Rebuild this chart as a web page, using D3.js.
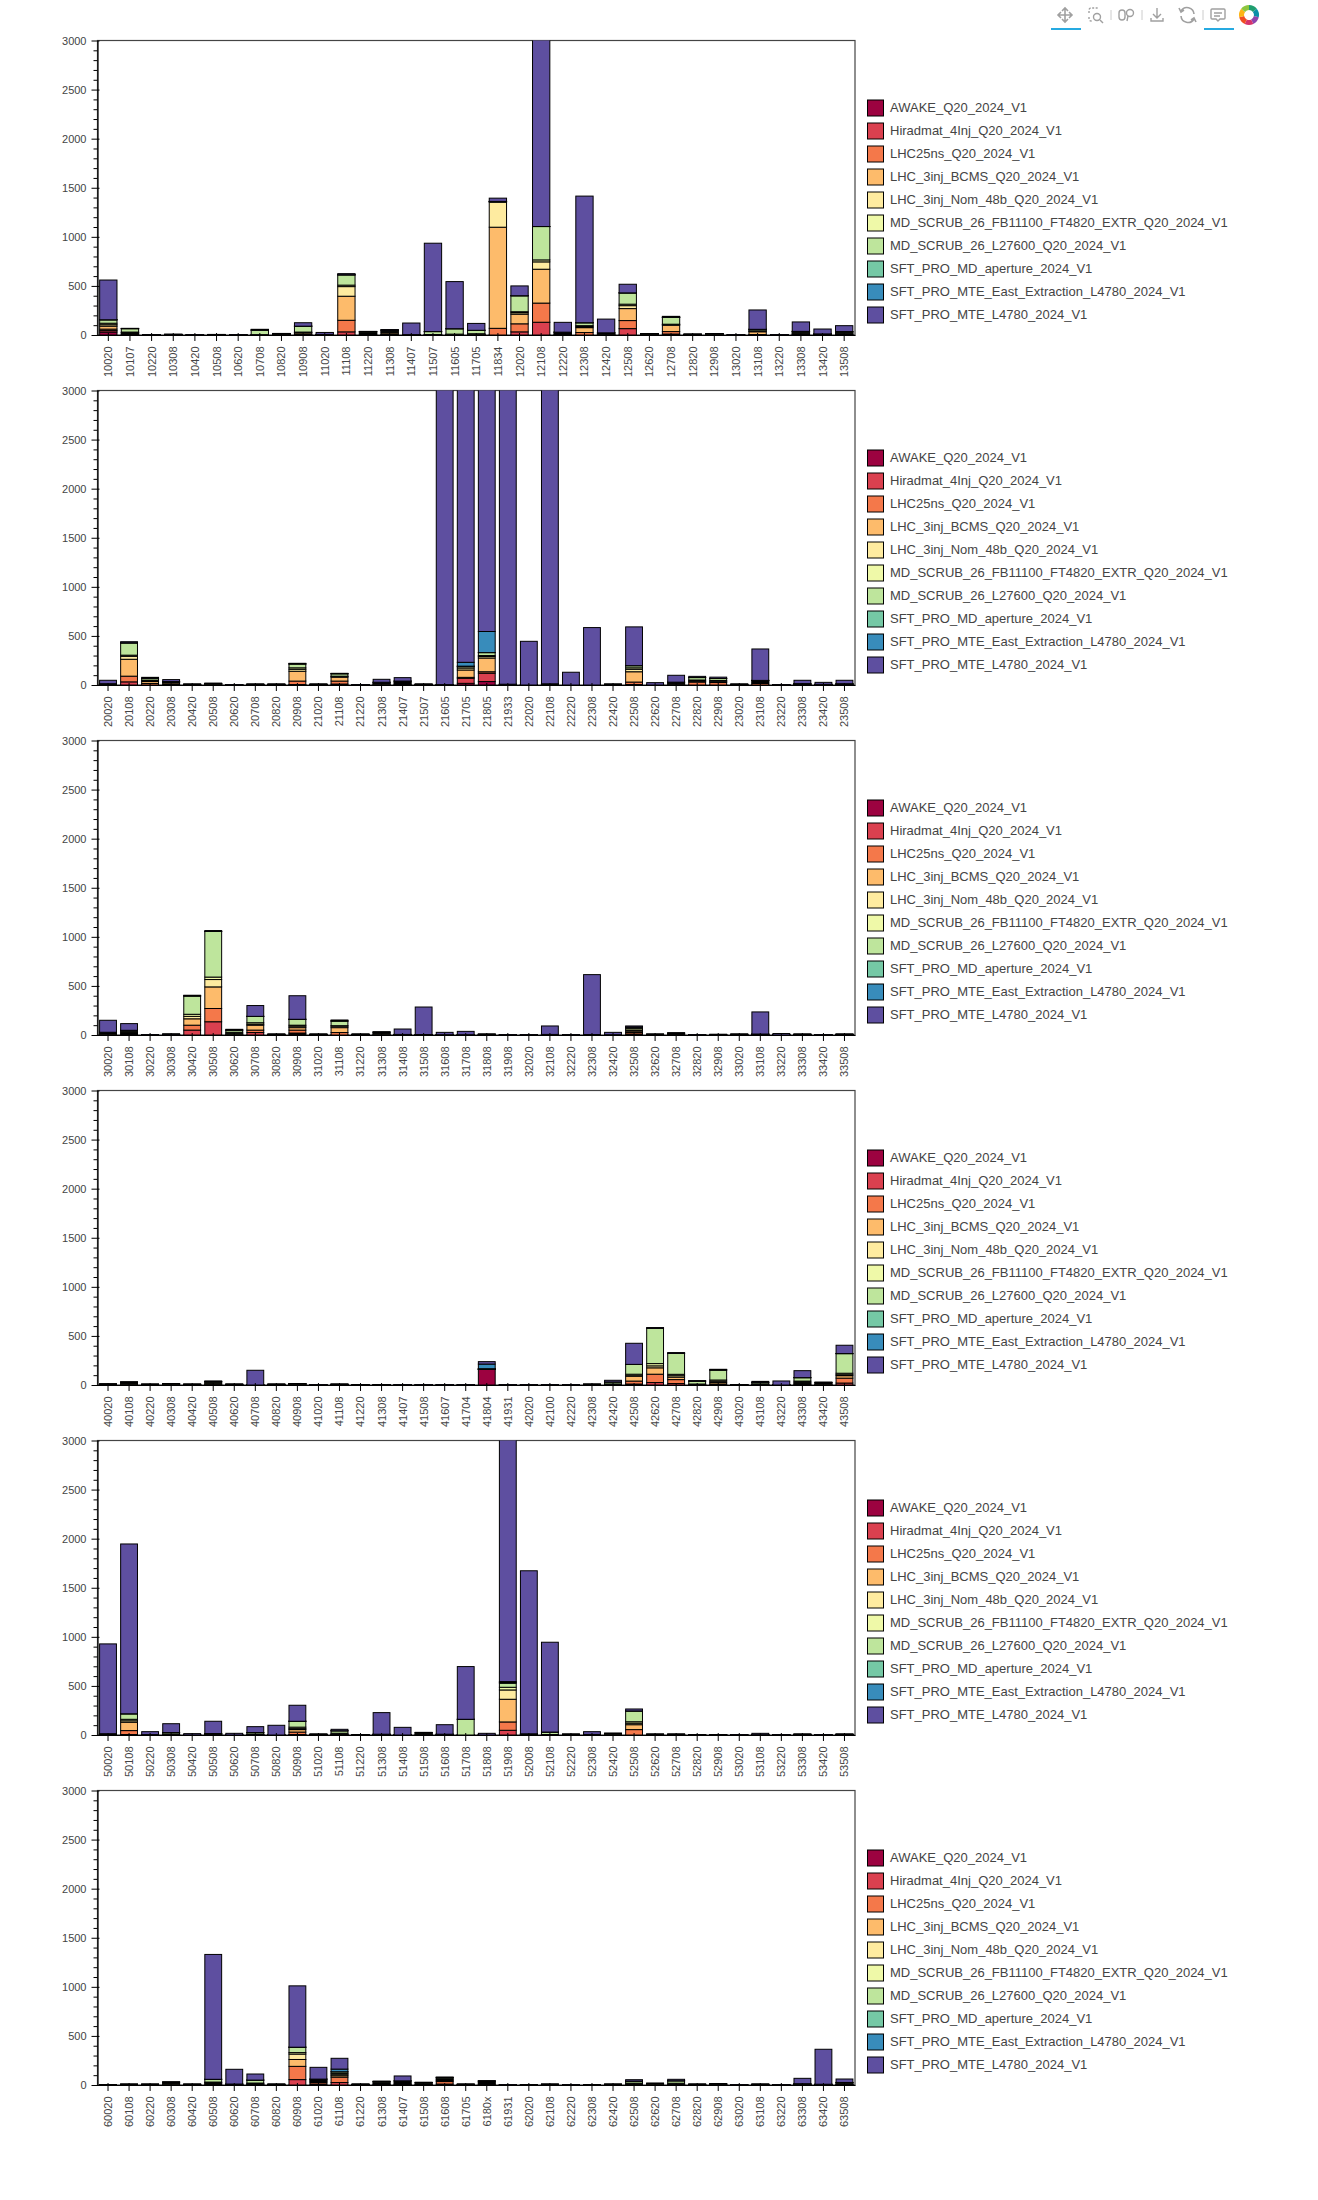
<!DOCTYPE html>
<html>
<head>
  <title>Filling schemes per cycle</title>
  <script src="https://d3js.org/d3.v7.min.js"></script>
  <style>
    body { margin: 0; background: #fff; }
    svg text { font-family: "Liberation Sans", Helvetica, Arial, sans-serif; fill: #444; }
  </style>
</head>
<body>
  <div id="chart"></div>

  <script>
    // legend order, bottom of the stack first
    var seriesNames = ["AWAKE_Q20_2024_V1", "Hiradmat_4Inj_Q20_2024_V1", "LHC25ns_Q20_2024_V1",
      "LHC_3inj_BCMS_Q20_2024_V1", "LHC_3inj_Nom_48b_Q20_2024_V1", "MD_SCRUB_26_FB11100_FT4820_EXTR_Q20_2024_V1",
      "MD_SCRUB_26_L27600_Q20_2024_V1", "SFT_PRO_MD_aperture_2024_V1", "SFT_PRO_MTE_East_Extraction_L4780_2024_V1",
      "SFT_PRO_MTE_L4780_2024_V1"];
    var seriesColors = ["#9c0240", "#da404f", "#f4784a", "#fdbb6b", "#feeba0", "#eff9a8", "#bee59c", "#75c8a5", "#388cbb", "#5e4fa0"];

    var majorTicks = [0, 500, 1000, 1500, 2000, 2500, 3000];
    var minorTicks = [100, 200, 300, 400, 600, 700, 800, 900, 1100, 1200, 1300, 1400, 1600, 1700, 1800, 1900, 2100, 2200, 2300, 2400, 2600, 2700, 2800, 2900];

    var labels1 = ["10020","10107","10220","10308","10420","10508","10620","10708","10820","10908","11020","11108","11220","11308","11407","11507","11605","11705","11834","12020","12108","12220","12308","12420","12508","12620","12708","12820","12908","13020","13108","13220","13308","13420","13508"];
    var values1 = [
      [30,15,15,30,15,15,35,0,0,405],[0,5,5,10,5,5,35,0,0,3],[0,0,0,0,0,0,0,0,0,4],[0,0,0,0,2,2,2,0,0,2],
      [0,0,0,0,0,0,0,0,0,2],[0,0,0,2,0,2,0,0,0,2],[0,0,0,0,0,0,0,0,0,2],[0,0,0,0,2,2,46,0,0,8],
      [0,0,0,4,4,4,2,0,0,2],[0,0,5,15,5,5,60,0,0,35],[0,0,0,0,3,3,0,0,0,20],[0,32,118,245,98,15,105,0,0,12],
      [0,0,3,10,8,8,6,0,0,2],[0,0,5,15,10,10,10,0,0,5],[0,0,0,2,0,2,0,0,0,118],[0,0,0,0,0,5,30,0,0,900],
      [0,0,0,3,3,3,55,0,0,480],[0,0,2,3,3,5,35,0,0,70],[0,0,68,1030,255,4,4,0,0,33],[0,32,82,98,15,10,163,0,0,100],
      [0,130,195,345,75,20,340,0,0,2400],[0,0,5,8,8,8,0,0,0,100],[0,0,25,50,10,10,30,0,0,1290],[0,0,3,3,8,8,0,0,0,140],
      [0,65,82,122,30,15,115,0,0,88],[0,0,0,3,4,4,4,0,0,0],[0,10,25,65,5,5,70,0,0,10],[0,0,0,2,2,2,2,0,0,0],
      [0,0,0,4,4,4,3,0,0,0],[0,0,0,0,0,0,0,0,0,3],[0,0,5,28,5,5,15,0,0,197],[0,0,0,0,0,0,0,0,0,2],
      [0,0,3,8,8,10,8,0,0,96],[0,0,0,3,3,3,2,0,0,50],[0,0,3,8,8,8,8,0,0,60]
    ];

    var labels2 = ["20020","20108","20220","20308","20420","20508","20620","20708","20820","20908","21020","21108","21220","21308","21407","21507","21605","21705","21805","21933","22020","22108","22220","22308","22420","22508","22620","22708","22820","22908","23020","23108","23220","23308","23420","23508"];
    var values2 = [
      [0,0,0,3,3,3,4,0,0,35],[0,32,58,172,30,12,125,0,0,12],[0,0,15,20,10,5,18,0,0,10],[0,0,5,15,5,5,5,0,0,20],
      [0,0,0,2,2,2,2,0,0,0],[0,0,0,4,4,4,4,0,0,2],[0,0,0,0,0,0,0,0,0,3],[0,0,0,2,2,2,2,0,0,0],
      [0,0,0,2,2,2,2,0,0,0],[0,5,35,100,20,15,40,0,0,6],[0,0,0,2,2,2,2,0,0,0],[0,10,30,40,5,5,25,0,0,4],
      [0,0,0,0,0,0,0,0,0,3],[0,0,0,8,8,6,6,0,0,30],[0,0,5,10,10,8,7,0,0,35],[0,0,0,2,2,2,2,0,0,0],
      [0,0,0,0,2,0,2,0,0,3300],[17,51,10,75,20,14,5,0,39,3000],[35,85,15,140,15,10,30,0,215,2600],[0,0,0,2,2,2,2,0,0,3300],
      [0,0,0,0,0,0,0,0,0,445],[0,0,0,3,3,3,3,0,0,3300],[0,0,0,0,0,0,0,0,0,130],[0,0,0,0,0,0,0,0,0,585],
      [0,0,0,2,2,2,2,0,0,0],[0,5,25,105,25,15,22,0,0,395],[0,0,0,0,0,0,0,0,0,24],[0,0,2,7,7,7,6,0,0,70],
      [0,0,30,8,5,8,25,0,0,12],[0,0,25,8,5,8,20,0,0,14],[0,0,0,2,2,2,2,0,0,0],[0,0,15,10,10,10,2,0,0,320],
      [0,0,0,0,0,0,0,0,0,3],[0,0,0,3,3,4,4,0,0,34],[0,0,0,2,2,2,1,0,0,20],[0,0,0,3,3,4,3,0,0,35]
    ];

    var labels3 = ["30020","30108","30220","30308","30420","30508","30620","30708","30820","30908","31020","31108","31220","31308","31408","31508","31608","31708","31808","31908","32020","32108","32220","32308","32420","32508","32620","32708","32820","32908","33020","33108","33220","33308","33420","33508"];
    var values3 = [
      [0,0,2,6,6,7,7,0,0,122],[0,0,5,10,10,12,11,0,0,68],[0,0,0,0,0,0,0,0,0,3],[0,0,0,2,2,2,2,0,0,2],
      [0,50,50,65,25,21,187,0,0,7],[0,135,135,220,75,25,465,0,0,9],[0,0,0,8,10,10,22,0,0,8],[0,25,25,50,10,15,65,0,0,110],
      [0,0,0,2,2,2,2,0,0,0],[10,10,30,25,15,10,60,0,0,240],[0,0,0,2,2,2,2,0,0,0],[0,0,25,50,15,5,48,0,0,10],
      [0,0,0,2,2,2,2,0,0,0],[0,0,0,8,8,8,6,0,0,0],[0,0,0,0,2,2,2,0,0,55],[0,0,0,0,1,2,2,0,0,280],
      [0,0,0,0,1,1,1,0,0,24],[0,0,0,0,1,1,1,0,0,34],[0,0,0,2,2,2,2,0,0,0],[0,0,0,0,0,0,0,0,0,3],
      [0,0,0,0,0,0,0,0,0,3],[0,0,0,0,2,2,2,0,0,86],[0,0,0,0,0,0,0,0,0,3],[0,0,0,0,1,2,2,0,0,610],
      [0,0,0,0,1,1,1,0,0,24],[0,10,15,15,10,15,15,0,0,12],[0,0,0,2,2,2,2,0,0,0],[0,0,0,5,5,5,5,0,0,0],
      [0,0,0,0,0,0,0,0,0,3],[0,0,0,0,0,0,0,0,0,8],[0,0,0,2,2,2,2,0,0,0],[0,0,0,2,3,3,2,0,0,225],
      [0,0,0,0,0,0,0,0,0,15],[0,0,0,2,2,2,2,0,0,0],[0,0,0,0,0,0,0,0,0,3],[0,0,0,2,2,2,2,0,0,0]
    ];

    var labels4 = ["40020","40108","40220","40308","40420","40508","40620","40708","40820","40908","41020","41108","41220","41308","41407","41508","41607","41704","41804","41931","42020","42100","42220","42308","42420","42508","42620","42708","42820","42908","43020","43108","43220","43308","43420","43508"];
    var values4 = [
      [0,0,0,2,3,3,2,0,0,0],[0,0,0,8,8,7,7,0,0,0],[0,0,0,2,2,2,2,0,0,0],[0,0,0,4,4,4,3,0,0,0],
      [0,0,0,2,2,2,2,0,0,0],[0,0,0,9,9,9,9,0,0,5],[0,0,0,2,2,2,2,0,0,0],[0,0,0,0,0,0,0,0,0,150],
      [0,0,0,2,2,2,2,0,0,0],[0,0,0,4,4,4,3,0,0,0],[0,0,0,0,0,0,0,0,0,3],[0,0,0,2,2,2,2,0,0,0],
      [0,0,0,0,0,0,0,0,0,5],[0,0,0,0,0,0,0,0,0,5],[0,0,0,0,0,0,0,0,0,3],[0,0,0,0,0,0,0,0,0,3],
      [0,0,0,0,0,0,0,0,0,3],[0,0,0,0,0,0,0,0,0,3],[160,0,0,0,0,3,3,0,47,25],[0,0,0,0,0,0,0,0,0,3],
      [0,0,0,0,0,0,0,0,0,3],[0,0,0,0,0,0,0,0,0,3],[0,0,0,0,0,0,0,0,0,3],[0,0,0,2,2,2,2,0,0,0],
      [0,0,0,3,3,5,20,0,0,17],[0,10,30,50,5,15,100,0,0,215],[0,25,85,65,20,23,360,0,0,7],[0,15,40,25,15,14,214,0,0,7],
      [0,0,0,3,3,4,30,0,0,4],[0,0,10,15,13,13,102,0,0,7],[0,0,0,2,1,1,1,0,0,0],[0,0,0,3,3,6,15,0,0,10],
      [0,0,0,0,0,0,0,0,0,41],[0,0,10,10,10,10,35,0,0,71],[0,0,0,7,7,7,6,0,0,0],[0,20,50,25,10,15,200,0,0,85]
    ];

    var labels5 = ["50020","50108","50220","50308","50420","50508","50620","50708","50820","50908","51020","51108","51220","51308","51408","51508","51608","51708","51808","51908","52008","52108","52220","52308","52420","52508","52620","52708","52820","52908","53020","53108","53220","53308","53420","53508"];
    var values5 = [
      [0,0,0,3,3,4,3,0,0,915],[0,5,40,85,15,15,56,0,0,1730],[0,0,0,0,1,1,2,0,0,30],[0,0,0,3,4,4,14,0,0,90],
      [0,0,0,0,0,0,0,0,0,14],[0,0,0,3,4,4,4,0,0,125],[0,0,0,0,0,0,0,0,0,17],[0,0,0,2,3,5,15,0,0,60],
      [0,0,0,0,0,0,0,0,0,99],[5,0,25,25,10,15,60,0,0,163],[0,0,0,2,2,2,2,0,0,0],[0,0,0,5,5,8,25,0,0,15],
      [0,0,0,0,0,0,0,0,0,5],[0,0,0,2,2,2,2,0,0,220],[0,0,0,0,0,0,0,0,0,78],[0,0,0,6,6,6,6,0,0,3],
      [0,0,0,2,2,2,2,0,0,97],[0,0,0,0,0,0,160,0,0,537],[0,0,0,0,0,0,0,0,0,17],[0,48,85,231,95,27,41,8,9,2800],
      [0,0,0,3,3,3,3,0,0,1661],[0,0,0,0,0,5,25,0,0,915],[0,0,0,2,2,2,2,0,0,0],[0,0,0,0,2,2,2,0,0,28],
      [0,0,0,4,4,5,4,0,0,0],[0,0,55,50,15,15,110,0,0,20],[0,0,0,2,2,2,2,0,0,0],[0,0,0,2,2,2,2,0,0,0],
      [0,0,0,0,0,0,0,0,0,5],[0,0,0,0,0,0,0,0,0,5],[0,0,0,0,0,0,0,0,0,3],[0,0,0,0,1,1,1,0,0,14],
      [0,0,0,0,0,0,0,0,0,3],[0,0,0,2,2,2,2,0,0,0],[0,0,0,0,0,0,0,0,0,3],[0,0,0,2,2,2,2,0,0,0]
    ];

    var labels6 = ["60020","60108","60220","60308","60420","60508","60620","60708","60820","60908","61020","61108","61220","61308","61407","61508","61608","61705","6180x","61931","62020","62108","62220","62308","62420","62508","62620","62708","62820","62908","63020","63108","63220","63308","63420","63508"];
    var values6 = [
      [0,0,0,0,0,0,0,0,0,5],[0,0,0,2,2,2,2,0,0,0],[0,0,0,2,2,2,2,0,0,0],[0,0,0,8,8,7,7,0,0,0],
      [0,0,0,2,2,2,2,0,0,0],[0,0,10,10,5,5,28,0,0,1272],[0,0,0,2,3,3,2,0,0,150],[0,0,5,5,5,5,30,0,0,62],
      [0,0,0,2,2,2,2,0,0,0],[0,55,135,70,55,15,55,0,0,625],[0,10,15,10,8,8,9,0,0,120],[0,25,55,15,15,10,15,0,27,110],
      [0,0,0,2,2,2,2,0,0,0],[0,0,5,8,8,8,8,0,0,0],[0,0,5,8,8,10,11,0,0,50],[0,0,0,5,7,7,7,0,0,1],
      [0,10,25,10,10,10,13,0,0,0],[0,0,0,2,2,2,2,0,0,0],[0,0,3,10,10,10,8,0,0,0],[0,0,0,0,0,0,0,0,0,3],
      [0,0,0,0,0,0,0,0,0,5],[0,0,0,2,2,2,2,0,0,0],[0,0,0,0,0,0,0,0,0,3],[0,0,0,0,0,0,0,0,0,5],
      [0,0,0,2,2,2,2,0,0,0],[0,0,0,5,5,9,20,0,0,15],[0,0,0,4,4,5,4,0,0,0],[0,0,0,5,5,8,25,0,0,15],
      [0,0,0,2,2,2,2,0,0,0],[0,0,0,3,3,3,3,0,0,0],[0,0,0,0,0,0,0,0,0,3],[0,0,0,2,2,2,2,0,0,0],
      [0,0,0,0,0,0,0,0,0,3],[0,0,0,2,3,3,5,0,0,55],[0,0,0,2,2,2,2,0,0,356],[0,0,0,5,5,8,8,0,0,35]
    ];

    var panels = [
      {labels: labels1, values: values1},
      {labels: labels2, values: values2},
      {labels: labels3, values: values3},
      {labels: labels4, values: values4},
      {labels: labels5, values: values5},
      {labels: labels6, values: values6}
    ];

    var left = 97.5, right = 855, plotH = 294.5, panelStep = 350, firstTop = 40.5;

    var svg = d3.select("#chart").append("svg")
      .attr("width", 1318)
      .attr("height", 2200);

    var y = d3.scaleLinear().domain([0, 3000]).range([plotH, 0]);
    var stack = d3.stack().keys(d3.range(seriesNames.length));

    svg.append("clipPath").attr("id", "plot-clip")
      .append("rect")
      .attr("x", left).attr("y", 0)
      .attr("width", right - left).attr("height", plotH);

    panels.forEach(function(panel, idx) {
      var g = svg.append("g")
        .attr("transform", "translate(0," + (firstTop + idx * panelStep) + ")");

      var x = d3.scaleBand()
        .domain(panel.labels)
        .range([left, right])
        .paddingInner(0.2)
        .paddingOuter(0.1);

      // frame
      g.append("rect")
        .attr("x", left).attr("y", 0)
        .attr("width", right - left).attr("height", plotH)
        .attr("fill", "none")
        .attr("stroke", "#444")
        .attr("stroke-width", 1.2);

      // bars, zero values still leave a black line like the original
      var layers = stack(panel.values);
      g.append("g").attr("clip-path", "url(#plot-clip)")
        .selectAll("g")
        .data(layers)
        .enter().append("g")
        .attr("fill", function(d, i) { return seriesColors[i]; })
        .selectAll("rect")
        .data(function(d) { return d; })
        .enter().append("rect")
        .attr("x", function(d, i) { return x(panel.labels[i]); })
        .attr("width", x.bandwidth())
        .attr("y", function(d) { return y(d[1]); })
        .attr("height", function(d) { return Math.max(y(d[0]) - y(d[1]), 0.01); })
        .attr("stroke", "#000")
        .attr("stroke-width", 1);

      // axes
      var yAxis = g.append("g")
        .attr("transform", "translate(" + left + ",0)")
        .call(d3.axisLeft(y).tickValues(majorTicks).tickFormat(d3.format("d")).tickSize(6).tickSizeOuter(0).tickPadding(5));
      yAxis.selectAll(".tick line").attr("x1", 2).attr("stroke", "#000");
      yAxis.selectAll(".tick text").attr("font-size", 11).attr("dy", "0.36em");

      g.append("g")
        .attr("transform", "translate(" + left + ",0)")
        .call(d3.axisLeft(y).tickValues(minorTicks).tickSize(4).tickSizeOuter(0).tickFormat(""))
        .select(".domain").remove();

      var xAxis = g.append("g")
        .attr("transform", "translate(0," + plotH + ")")
        .call(d3.axisBottom(x).tickSize(6).tickSizeOuter(0));
      xAxis.selectAll(".tick line").attr("y1", -2).attr("stroke", "#000");
      xAxis.selectAll(".tick text")
        .attr("font-size", 11)
        .attr("text-anchor", "end")
        .attr("transform", "rotate(-90)")
        .attr("x", -11.5)
        .attr("y", 0)
        .attr("dy", "0.36em");

      g.selectAll(".domain").attr("stroke", "#000").attr("stroke-width", 1.2);

      // legend
      var legend = g.selectAll(".legend-item")
        .data(seriesNames)
        .enter().append("g")
        .attr("class", "legend-item")
        .attr("transform", function(d, i) { return "translate(867.5," + (59.5 + i * 23) + ")"; });

      legend.append("rect")
        .attr("width", 16)
        .attr("height", 16)
        .attr("fill", function(d, i) { return seriesColors[i]; })
        .attr("stroke", "#000")
        .attr("stroke-width", 1);

      legend.append("text")
        .attr("x", 22.5)
        .attr("y", 12)
        .attr("font-size", 13)
        .text(function(d) { return d; });
    });

    // toolbar
    var bar = svg.append("g").attr("fill", "none").attr("stroke", "#a0a0a0").attr("stroke-width", 1.4);

    bar.append("path").attr("d", "M1058 15h14M1065 8v14M1062 11l3-3 3 3M1062 19l3 3 3-3M1061 12l-3 3 3 3M1069 12l3 3-3 3").attr("stroke-width", 1.6);
    bar.append("path").attr("d", "M1089 13v-3a2 2 0 0 1 2-2h8M1089 17v2a2 2 0 0 0 2 2h1").attr("stroke-dasharray", "2 1.5");
    bar.append("circle").attr("cx", 1097).attr("cy", 17).attr("r", 3.5);
    bar.append("path").attr("d", "M1100 20l3 3");
    bar.append("rect").attr("x", 1119).attr("y", 10).attr("width", 6).attr("height", 10).attr("rx", 3);
    bar.append("circle").attr("cx", 1130).attr("cy", 13).attr("r", 3.5);
    bar.append("path").attr("d", "M1128 16l-1 5");
    bar.append("path").attr("d", "M1111 10v10M1142 10v10M1203 10v10").attr("stroke", "#ccc").attr("stroke-width", 1);
    bar.append("path").attr("d", "M1157 8v10M1153 14l4 4 4-4M1151 18v3h12v-3");
    bar.append("path").attr("d", "M1194 14a7 7 0 0 0-13-3M1181 16a7 7 0 0 0 13 3M1179 8l2 4 3-2M1196 22l-2-4-3 2").attr("stroke-width", 1.6);
    bar.append("path").attr("d", "M1212 9h12a1 1 0 0 1 1 1v8a1 1 0 0 1-1 1h-4l-2 2-2-2h-4a1 1 0 0 1-1-1v-8a1 1 0 0 1 1-1zM1214 13h8M1214 16h6");
    bar.selectAll(".underline")
      .data([1051, 1204])
      .enter().append("rect")
      .attr("x", function(d) { return d; })
      .attr("y", 28)
      .attr("width", 30)
      .attr("height", 2)
      .attr("fill", "#26aae1")
      .attr("stroke", "none");

    var logoColors = ["#1f9e6f", "#0a8fa8", "#8e44ad", "#d6336c", "#f04e23", "#fdb515", "#8dc63f"];
    var logoArc = d3.arc().innerRadius(5).outerRadius(10);
    svg.append("g")
      .attr("transform", "translate(1249,15)")
      .selectAll("path")
      .data(d3.pie().value(1).sort(null)(logoColors))
      .enter().append("path")
      .attr("d", logoArc)
      .attr("fill", function(d) { return d.data; });
  </script>
</body>
</html>
